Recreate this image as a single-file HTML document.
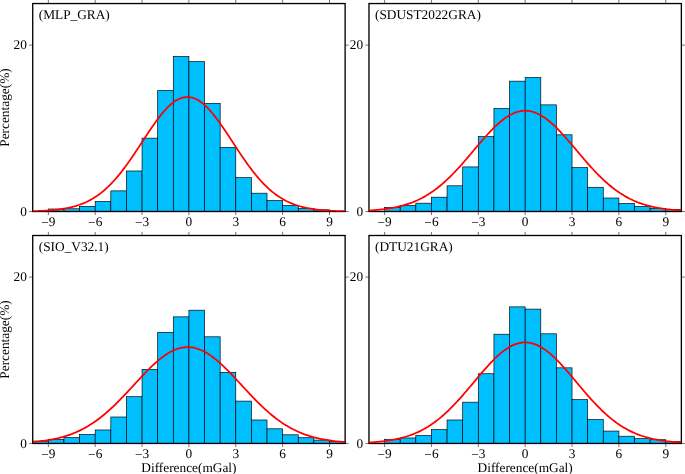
<!DOCTYPE html>
<html><head><meta charset="utf-8"><title>Histograms</title>
<style>
html,body{margin:0;padding:0;background:#fff;}
body{width:685px;height:474px;overflow:hidden;}
svg{display:block;}
text{font-family:"Liberation Serif",serif;font-size:13.33px;fill:#000;text-rendering:geometricPrecision;}
svg{will-change:transform;}
</style></head><body>
<svg width="685" height="474" viewBox="0 0 685 474">
<rect x="0" y="0" width="685" height="474" fill="#fff"/>
<g>
<rect x="48.34" y="209" width="15.62" height="2.5" fill="#00bfff" stroke="#000" stroke-width="0.67"/>
<rect x="63.96" y="208.76" width="15.62" height="2.74" fill="#00bfff" stroke="#000" stroke-width="0.67"/>
<rect x="79.58" y="206.34" width="15.62" height="5.16" fill="#00bfff" stroke="#000" stroke-width="0.67"/>
<rect x="95.2" y="201.52" width="15.62" height="9.98" fill="#00bfff" stroke="#000" stroke-width="0.67"/>
<rect x="110.82" y="190.87" width="15.62" height="20.63" fill="#00bfff" stroke="#000" stroke-width="0.67"/>
<rect x="126.44" y="170.99" width="15.62" height="40.51" fill="#00bfff" stroke="#000" stroke-width="0.67"/>
<rect x="142.06" y="138.14" width="15.62" height="73.36" fill="#00bfff" stroke="#000" stroke-width="0.67"/>
<rect x="157.68" y="90.56" width="15.62" height="120.94" fill="#00bfff" stroke="#000" stroke-width="0.67"/>
<rect x="173.3" y="56.45" width="15.62" height="155.05" fill="#00bfff" stroke="#000" stroke-width="0.67"/>
<rect x="188.92" y="61.61" width="15.62" height="149.89" fill="#00bfff" stroke="#000" stroke-width="0.67"/>
<rect x="204.54" y="103.37" width="15.62" height="108.13" fill="#00bfff" stroke="#000" stroke-width="0.67"/>
<rect x="220.16" y="147.37" width="15.62" height="64.13" fill="#00bfff" stroke="#000" stroke-width="0.67"/>
<rect x="235.78" y="177.65" width="15.62" height="33.85" fill="#00bfff" stroke="#000" stroke-width="0.67"/>
<rect x="251.4" y="193.2" width="15.62" height="18.3" fill="#00bfff" stroke="#000" stroke-width="0.67"/>
<rect x="267.02" y="200.6" width="15.62" height="10.9" fill="#00bfff" stroke="#000" stroke-width="0.67"/>
<rect x="282.64" y="205.43" width="15.62" height="6.07" fill="#00bfff" stroke="#000" stroke-width="0.67"/>
<rect x="298.26" y="208.34" width="15.62" height="3.16" fill="#00bfff" stroke="#000" stroke-width="0.67"/>
<rect x="313.88" y="209.84" width="15.62" height="1.66" fill="#00bfff" stroke="#000" stroke-width="0.67"/>
<rect x="32.72" y="3.55" width="312.4" height="207.95" fill="none" stroke="#000" stroke-width="1.33"/>
<clipPath id="c00"><rect x="32.72" y="3.55" width="312.4" height="207.95"/></clipPath>
<polyline clip-path="url(#c00)" points="32.72,211.16 34.28,211.12 35.84,211.08 37.41,211.02 38.97,210.97 40.53,210.9 42.09,210.83 43.65,210.76 45.22,210.67 46.78,210.57 48.34,210.47 49.9,210.36 51.46,210.23 53.03,210.09 54.59,209.94 56.15,209.78 57.71,209.6 59.27,209.4 60.84,209.19 62.4,208.96 63.96,208.7 65.52,208.43 67.08,208.13 68.65,207.81 70.21,207.47 71.77,207.09 73.33,206.69 74.89,206.26 76.46,205.79 78.02,205.29 79.58,204.76 81.14,204.19 82.7,203.57 84.27,202.92 85.83,202.23 87.39,201.49 88.95,200.7 90.51,199.87 92.08,198.99 93.64,198.05 95.2,197.07 96.76,196.03 98.32,194.93 99.89,193.78 101.45,192.57 103.01,191.3 104.57,189.97 106.13,188.59 107.7,187.14 109.26,185.63 110.82,184.06 112.38,182.43 113.94,180.74 115.51,178.99 117.07,177.18 118.63,175.32 120.19,173.39 121.75,171.42 123.32,169.39 124.88,167.31 126.44,165.19 128,163.01 129.56,160.8 131.13,158.55 132.69,156.27 134.25,153.95 135.81,151.61 137.37,149.25 138.94,146.88 140.5,144.49 142.06,142.1 143.62,139.7 145.18,137.31 146.75,134.94 148.31,132.58 149.87,130.25 151.43,127.94 152.99,125.68 154.56,123.45 156.12,121.28 157.68,119.16 159.24,117.11 160.8,115.12 162.37,113.21 163.93,111.38 165.49,109.64 167.05,107.99 168.61,106.44 170.18,104.99 171.74,103.65 173.3,102.43 174.86,101.32 176.42,100.33 177.99,99.47 179.55,98.73 181.11,98.13 182.67,97.66 184.23,97.32 185.8,97.11 187.36,97.04 188.92,97.11 190.48,97.32 192.04,97.66 193.61,98.13 195.17,98.73 196.73,99.47 198.29,100.33 199.85,101.32 201.42,102.43 202.98,103.65 204.54,104.99 206.1,106.44 207.66,107.99 209.23,109.64 210.79,111.38 212.35,113.21 213.91,115.12 215.47,117.11 217.04,119.16 218.6,121.28 220.16,123.45 221.72,125.68 223.28,127.94 224.85,130.25 226.41,132.58 227.97,134.94 229.53,137.31 231.09,139.7 232.66,142.1 234.22,144.49 235.78,146.88 237.34,149.25 238.9,151.61 240.47,153.95 242.03,156.27 243.59,158.55 245.15,160.8 246.71,163.01 248.28,165.19 249.84,167.31 251.4,169.39 252.96,171.42 254.52,173.39 256.09,175.32 257.65,177.18 259.21,178.99 260.77,180.74 262.33,182.43 263.9,184.06 265.46,185.63 267.02,187.14 268.58,188.59 270.14,189.97 271.71,191.3 273.27,192.57 274.83,193.78 276.39,194.93 277.95,196.03 279.52,197.07 281.08,198.05 282.64,198.99 284.2,199.87 285.76,200.7 287.33,201.49 288.89,202.23 290.45,202.92 292.01,203.57 293.57,204.19 295.14,204.76 296.7,205.29 298.26,205.79 299.82,206.26 301.38,206.69 302.95,207.09 304.51,207.47 306.07,207.81 307.63,208.13 309.19,208.43 310.76,208.7 312.32,208.96 313.88,209.19 315.44,209.4 317,209.6 318.57,209.78 320.13,209.94 321.69,210.09 323.25,210.23 324.81,210.36 326.38,210.47 327.94,210.57 329.5,210.67 331.06,210.76 332.62,210.83 334.19,210.9 335.75,210.97 337.31,211.02 338.87,211.08 340.43,211.12 342,211.16 343.56,211.2 345.12,211.23" fill="none" stroke="#ff0000" stroke-width="1.75" stroke-linejoin="round"/>
<line x1="48.34" y1="211.5" x2="48.34" y2="215.1" stroke="#000" stroke-width="0.55"/>
<line x1="48.34" y1="3.55" x2="48.34" y2="-0.05" stroke="#000" stroke-width="0.55"/>
<text x="48.34" y="226.4" text-anchor="middle"><tspan dy="1">−</tspan><tspan dy="-1">9</tspan></text>
<line x1="95.2" y1="211.5" x2="95.2" y2="215.1" stroke="#000" stroke-width="0.55"/>
<line x1="95.2" y1="3.55" x2="95.2" y2="-0.05" stroke="#000" stroke-width="0.55"/>
<text x="95.2" y="226.4" text-anchor="middle"><tspan dy="1">−</tspan><tspan dy="-1">6</tspan></text>
<line x1="142.06" y1="211.5" x2="142.06" y2="215.1" stroke="#000" stroke-width="0.55"/>
<line x1="142.06" y1="3.55" x2="142.06" y2="-0.05" stroke="#000" stroke-width="0.55"/>
<text x="142.06" y="226.4" text-anchor="middle"><tspan dy="1">−</tspan><tspan dy="-1">3</tspan></text>
<line x1="188.92" y1="211.5" x2="188.92" y2="215.1" stroke="#000" stroke-width="0.55"/>
<line x1="188.92" y1="3.55" x2="188.92" y2="-0.05" stroke="#000" stroke-width="0.55"/>
<text x="188.92" y="226.4" text-anchor="middle">0</text>
<line x1="235.78" y1="211.5" x2="235.78" y2="215.1" stroke="#000" stroke-width="0.55"/>
<line x1="235.78" y1="3.55" x2="235.78" y2="-0.05" stroke="#000" stroke-width="0.55"/>
<text x="235.78" y="226.4" text-anchor="middle">3</text>
<line x1="282.64" y1="211.5" x2="282.64" y2="215.1" stroke="#000" stroke-width="0.55"/>
<line x1="282.64" y1="3.55" x2="282.64" y2="-0.05" stroke="#000" stroke-width="0.55"/>
<text x="282.64" y="226.4" text-anchor="middle">6</text>
<line x1="329.5" y1="211.5" x2="329.5" y2="215.1" stroke="#000" stroke-width="0.55"/>
<line x1="329.5" y1="3.55" x2="329.5" y2="-0.05" stroke="#000" stroke-width="0.55"/>
<text x="329.5" y="226.4" text-anchor="middle">9</text>
<line x1="32.72" y1="211.5" x2="29.12" y2="211.5" stroke="#000" stroke-width="0.55"/>
<line x1="345.12" y1="211.5" x2="348.72" y2="211.5" stroke="#000" stroke-width="0.55"/>
<text x="26.92" y="215.9" text-anchor="end">0</text>
<line x1="32.72" y1="45.14" x2="29.12" y2="45.14" stroke="#000" stroke-width="0.55"/>
<line x1="345.12" y1="45.14" x2="348.72" y2="45.14" stroke="#000" stroke-width="0.55"/>
<text x="26.92" y="49.34" text-anchor="end">20</text>
<text x="38.72" y="18.95">(MLP_GRA)</text>
<text transform="translate(9.0,107.53) rotate(-90)" text-anchor="middle">Percentage(%)</text>
</g>
<g>
<rect x="384.59" y="207.34" width="15.62" height="4.16" fill="#00bfff" stroke="#000" stroke-width="0.67"/>
<rect x="400.21" y="205.51" width="15.62" height="5.99" fill="#00bfff" stroke="#000" stroke-width="0.67"/>
<rect x="415.83" y="203.18" width="15.62" height="8.32" fill="#00bfff" stroke="#000" stroke-width="0.67"/>
<rect x="431.45" y="197.19" width="15.62" height="14.31" fill="#00bfff" stroke="#000" stroke-width="0.67"/>
<rect x="447.07" y="185.8" width="15.62" height="25.7" fill="#00bfff" stroke="#000" stroke-width="0.67"/>
<rect x="462.69" y="166.92" width="15.62" height="44.58" fill="#00bfff" stroke="#000" stroke-width="0.67"/>
<rect x="478.31" y="136.64" width="15.62" height="74.86" fill="#00bfff" stroke="#000" stroke-width="0.67"/>
<rect x="493.93" y="108.52" width="15.62" height="102.98" fill="#00bfff" stroke="#000" stroke-width="0.67"/>
<rect x="509.55" y="81.16" width="15.62" height="130.34" fill="#00bfff" stroke="#000" stroke-width="0.67"/>
<rect x="525.17" y="77.5" width="15.62" height="134" fill="#00bfff" stroke="#000" stroke-width="0.67"/>
<rect x="540.79" y="104.86" width="15.62" height="106.64" fill="#00bfff" stroke="#000" stroke-width="0.67"/>
<rect x="556.41" y="134.81" width="15.62" height="76.69" fill="#00bfff" stroke="#000" stroke-width="0.67"/>
<rect x="572.03" y="167.66" width="15.62" height="43.84" fill="#00bfff" stroke="#000" stroke-width="0.67"/>
<rect x="587.65" y="187.29" width="15.62" height="24.21" fill="#00bfff" stroke="#000" stroke-width="0.67"/>
<rect x="603.27" y="198.02" width="15.62" height="13.48" fill="#00bfff" stroke="#000" stroke-width="0.67"/>
<rect x="618.89" y="203.43" width="15.62" height="8.07" fill="#00bfff" stroke="#000" stroke-width="0.67"/>
<rect x="634.51" y="206.51" width="15.62" height="4.99" fill="#00bfff" stroke="#000" stroke-width="0.67"/>
<rect x="650.13" y="208.34" width="15.62" height="3.16" fill="#00bfff" stroke="#000" stroke-width="0.67"/>
<rect x="665.75" y="209.42" width="15.62" height="2.08" fill="#00bfff" stroke="#000" stroke-width="0.67"/>
<rect x="368.97" y="3.55" width="312.4" height="207.95" fill="none" stroke="#000" stroke-width="1.33"/>
<clipPath id="c10"><rect x="368.97" y="3.55" width="312.4" height="207.95"/></clipPath>
<polyline clip-path="url(#c10)" points="368.97,210.49 370.53,210.4 372.09,210.29 373.66,210.18 375.22,210.06 376.78,209.92 378.34,209.78 379.9,209.63 381.47,209.46 383.03,209.28 384.59,209.09 386.15,208.88 387.71,208.66 389.28,208.42 390.84,208.16 392.4,207.89 393.96,207.6 395.52,207.29 397.09,206.95 398.65,206.6 400.21,206.22 401.77,205.82 403.33,205.39 404.9,204.94 406.46,204.46 408.02,203.95 409.58,203.42 411.14,202.85 412.71,202.26 414.27,201.63 415.83,200.96 417.39,200.27 418.95,199.53 420.52,198.77 422.08,197.96 423.64,197.12 425.2,196.24 426.76,195.32 428.33,194.36 429.89,193.36 431.45,192.32 433.01,191.24 434.57,190.12 436.14,188.95 437.7,187.75 439.26,186.5 440.82,185.22 442.38,183.89 443.95,182.52 445.51,181.11 447.07,179.66 448.63,178.18 450.19,176.65 451.76,175.09 453.32,173.5 454.88,171.87 456.44,170.22 458,168.53 459.57,166.81 461.13,165.07 462.69,163.3 464.25,161.52 465.81,159.71 467.38,157.89 468.94,156.06 470.5,154.21 472.06,152.36 473.62,150.51 475.19,148.65 476.75,146.8 478.31,144.96 479.87,143.13 481.43,141.31 483,139.51 484.56,137.73 486.12,135.97 487.68,134.25 489.24,132.56 490.81,130.9 492.37,129.29 493.93,127.72 495.49,126.2 497.05,124.74 498.62,123.33 500.18,121.98 501.74,120.69 503.3,119.47 504.86,118.31 506.43,117.24 507.99,116.23 509.55,115.3 511.11,114.46 512.67,113.7 514.24,113.02 515.8,112.43 517.36,111.92 518.92,111.51 520.48,111.19 522.05,110.95 523.61,110.82 525.17,110.77 526.73,110.82 528.29,110.95 529.86,111.19 531.42,111.51 532.98,111.92 534.54,112.43 536.1,113.02 537.67,113.7 539.23,114.46 540.79,115.3 542.35,116.23 543.91,117.24 545.48,118.31 547.04,119.47 548.6,120.69 550.16,121.98 551.72,123.33 553.29,124.74 554.85,126.2 556.41,127.72 557.97,129.29 559.53,130.9 561.1,132.56 562.66,134.25 564.22,135.97 565.78,137.73 567.34,139.51 568.91,141.31 570.47,143.13 572.03,144.96 573.59,146.8 575.15,148.65 576.72,150.51 578.28,152.36 579.84,154.21 581.4,156.06 582.96,157.89 584.53,159.71 586.09,161.52 587.65,163.3 589.21,165.07 590.77,166.81 592.34,168.53 593.9,170.22 595.46,171.87 597.02,173.5 598.58,175.09 600.15,176.65 601.71,178.18 603.27,179.66 604.83,181.11 606.39,182.52 607.96,183.89 609.52,185.22 611.08,186.5 612.64,187.75 614.2,188.95 615.77,190.12 617.33,191.24 618.89,192.32 620.45,193.36 622.01,194.36 623.58,195.32 625.14,196.24 626.7,197.12 628.26,197.96 629.82,198.77 631.39,199.53 632.95,200.27 634.51,200.96 636.07,201.63 637.63,202.26 639.2,202.85 640.76,203.42 642.32,203.95 643.88,204.46 645.44,204.94 647.01,205.39 648.57,205.82 650.13,206.22 651.69,206.6 653.25,206.95 654.82,207.29 656.38,207.6 657.94,207.89 659.5,208.16 661.06,208.42 662.63,208.66 664.19,208.88 665.75,209.09 667.31,209.28 668.87,209.46 670.44,209.63 672,209.78 673.56,209.92 675.12,210.06 676.68,210.18 678.25,210.29 679.81,210.4 681.37,210.49" fill="none" stroke="#ff0000" stroke-width="1.75" stroke-linejoin="round"/>
<line x1="384.59" y1="211.5" x2="384.59" y2="215.1" stroke="#000" stroke-width="0.55"/>
<line x1="384.59" y1="3.55" x2="384.59" y2="-0.05" stroke="#000" stroke-width="0.55"/>
<text x="384.59" y="226.4" text-anchor="middle"><tspan dy="1">−</tspan><tspan dy="-1">9</tspan></text>
<line x1="431.45" y1="211.5" x2="431.45" y2="215.1" stroke="#000" stroke-width="0.55"/>
<line x1="431.45" y1="3.55" x2="431.45" y2="-0.05" stroke="#000" stroke-width="0.55"/>
<text x="431.45" y="226.4" text-anchor="middle"><tspan dy="1">−</tspan><tspan dy="-1">6</tspan></text>
<line x1="478.31" y1="211.5" x2="478.31" y2="215.1" stroke="#000" stroke-width="0.55"/>
<line x1="478.31" y1="3.55" x2="478.31" y2="-0.05" stroke="#000" stroke-width="0.55"/>
<text x="478.31" y="226.4" text-anchor="middle"><tspan dy="1">−</tspan><tspan dy="-1">3</tspan></text>
<line x1="525.17" y1="211.5" x2="525.17" y2="215.1" stroke="#000" stroke-width="0.55"/>
<line x1="525.17" y1="3.55" x2="525.17" y2="-0.05" stroke="#000" stroke-width="0.55"/>
<text x="525.17" y="226.4" text-anchor="middle">0</text>
<line x1="572.03" y1="211.5" x2="572.03" y2="215.1" stroke="#000" stroke-width="0.55"/>
<line x1="572.03" y1="3.55" x2="572.03" y2="-0.05" stroke="#000" stroke-width="0.55"/>
<text x="572.03" y="226.4" text-anchor="middle">3</text>
<line x1="618.89" y1="211.5" x2="618.89" y2="215.1" stroke="#000" stroke-width="0.55"/>
<line x1="618.89" y1="3.55" x2="618.89" y2="-0.05" stroke="#000" stroke-width="0.55"/>
<text x="618.89" y="226.4" text-anchor="middle">6</text>
<line x1="665.75" y1="211.5" x2="665.75" y2="215.1" stroke="#000" stroke-width="0.55"/>
<line x1="665.75" y1="3.55" x2="665.75" y2="-0.05" stroke="#000" stroke-width="0.55"/>
<text x="665.75" y="226.4" text-anchor="middle">9</text>
<line x1="368.97" y1="211.5" x2="365.37" y2="211.5" stroke="#000" stroke-width="0.55"/>
<line x1="681.37" y1="211.5" x2="684.97" y2="211.5" stroke="#000" stroke-width="0.55"/>
<text x="363.17" y="215.9" text-anchor="end">0</text>
<line x1="368.97" y1="45.14" x2="365.37" y2="45.14" stroke="#000" stroke-width="0.55"/>
<line x1="681.37" y1="45.14" x2="684.97" y2="45.14" stroke="#000" stroke-width="0.55"/>
<text x="363.17" y="49.34" text-anchor="end">20</text>
<text x="374.97" y="18.95">(SDUST2022GRA)</text>
</g>
<g>
<rect x="32.72" y="441.12" width="15.62" height="2.33" fill="#00bfff" stroke="#000" stroke-width="0.67"/>
<rect x="48.34" y="439.29" width="15.62" height="4.16" fill="#00bfff" stroke="#000" stroke-width="0.67"/>
<rect x="63.96" y="437.63" width="15.62" height="5.82" fill="#00bfff" stroke="#000" stroke-width="0.67"/>
<rect x="79.58" y="434.47" width="15.62" height="8.98" fill="#00bfff" stroke="#000" stroke-width="0.67"/>
<rect x="95.2" y="429.97" width="15.62" height="13.48" fill="#00bfff" stroke="#000" stroke-width="0.67"/>
<rect x="110.82" y="417" width="15.62" height="26.45" fill="#00bfff" stroke="#000" stroke-width="0.67"/>
<rect x="126.44" y="396.7" width="15.62" height="46.75" fill="#00bfff" stroke="#000" stroke-width="0.67"/>
<rect x="142.06" y="369.34" width="15.62" height="74.11" fill="#00bfff" stroke="#000" stroke-width="0.67"/>
<rect x="157.68" y="332.4" width="15.62" height="111.05" fill="#00bfff" stroke="#000" stroke-width="0.67"/>
<rect x="173.3" y="316.85" width="15.62" height="126.6" fill="#00bfff" stroke="#000" stroke-width="0.67"/>
<rect x="188.92" y="310.2" width="15.62" height="133.25" fill="#00bfff" stroke="#000" stroke-width="0.67"/>
<rect x="204.54" y="336.81" width="15.62" height="106.64" fill="#00bfff" stroke="#000" stroke-width="0.67"/>
<rect x="220.16" y="372.33" width="15.62" height="71.12" fill="#00bfff" stroke="#000" stroke-width="0.67"/>
<rect x="235.78" y="401.11" width="15.62" height="42.34" fill="#00bfff" stroke="#000" stroke-width="0.67"/>
<rect x="251.4" y="419.99" width="15.62" height="23.46" fill="#00bfff" stroke="#000" stroke-width="0.67"/>
<rect x="267.02" y="428.81" width="15.62" height="14.64" fill="#00bfff" stroke="#000" stroke-width="0.67"/>
<rect x="282.64" y="434.8" width="15.62" height="8.65" fill="#00bfff" stroke="#000" stroke-width="0.67"/>
<rect x="298.26" y="437.71" width="15.62" height="5.74" fill="#00bfff" stroke="#000" stroke-width="0.67"/>
<rect x="313.88" y="440.12" width="15.62" height="3.33" fill="#00bfff" stroke="#000" stroke-width="0.67"/>
<rect x="329.5" y="441.45" width="15.62" height="2" fill="#00bfff" stroke="#000" stroke-width="0.67"/>
<rect x="32.72" y="235.5" width="312.4" height="207.95" fill="none" stroke="#000" stroke-width="1.33"/>
<clipPath id="c01"><rect x="32.72" y="235.5" width="312.4" height="207.95"/></clipPath>
<polyline clip-path="url(#c01)" points="32.72,441.92 34.28,441.79 35.84,441.65 37.41,441.5 38.97,441.33 40.53,441.16 42.09,440.97 43.65,440.77 45.22,440.55 46.78,440.32 48.34,440.08 49.9,439.82 51.46,439.54 53.03,439.24 54.59,438.92 56.15,438.59 57.71,438.24 59.27,437.86 60.84,437.46 62.4,437.04 63.96,436.59 65.52,436.12 67.08,435.63 68.65,435.11 70.21,434.56 71.77,433.98 73.33,433.37 74.89,432.73 76.46,432.07 78.02,431.37 79.58,430.64 81.14,429.87 82.7,429.08 84.27,428.25 85.83,427.38 87.39,426.48 88.95,425.55 90.51,424.57 92.08,423.57 93.64,422.52 95.2,421.44 96.76,420.33 98.32,419.18 99.89,417.99 101.45,416.77 103.01,415.51 104.57,414.21 106.13,412.89 107.7,411.53 109.26,410.13 110.82,408.71 112.38,407.25 113.94,405.77 115.51,404.26 117.07,402.72 118.63,401.15 120.19,399.57 121.75,397.96 123.32,396.33 124.88,394.69 126.44,393.03 128,391.36 129.56,389.68 131.13,387.99 132.69,386.3 134.25,384.6 135.81,382.91 137.37,381.22 138.94,379.53 140.5,377.86 142.06,376.19 143.62,374.55 145.18,372.92 146.75,371.32 148.31,369.74 149.87,368.19 151.43,366.67 152.99,365.19 154.56,363.74 156.12,362.34 157.68,360.98 159.24,359.67 160.8,358.41 162.37,357.21 163.93,356.06 165.49,354.97 167.05,353.94 168.61,352.98 170.18,352.09 171.74,351.26 173.3,350.5 174.86,349.82 176.42,349.21 177.99,348.67 179.55,348.22 181.11,347.84 182.67,347.54 184.23,347.32 185.8,347.19 187.36,347.13 188.92,347.15 190.48,347.26 192.04,347.45 193.61,347.71 195.17,348.06 196.73,348.48 198.29,348.99 199.85,349.56 201.42,350.22 202.98,350.95 204.54,351.75 206.1,352.62 207.66,353.55 209.23,354.55 210.79,355.62 212.35,356.74 213.91,357.93 215.47,359.16 217.04,360.45 218.6,361.79 220.16,363.18 221.72,364.6 223.28,366.07 224.85,367.58 226.41,369.11 227.97,370.68 229.53,372.28 231.09,373.89 232.66,375.53 234.22,377.19 235.78,378.86 237.34,380.54 238.9,382.23 240.47,383.92 242.03,385.62 243.59,387.31 245.15,389 246.71,390.69 248.28,392.36 249.84,394.03 251.4,395.68 252.96,397.31 254.52,398.93 256.09,400.52 257.65,402.1 259.21,403.64 260.77,405.17 262.33,406.66 263.9,408.13 265.46,409.57 267.02,410.97 268.58,412.35 270.14,413.69 271.71,414.99 273.27,416.27 274.83,417.5 276.39,418.71 277.95,419.87 279.52,421 281.08,422.1 282.64,423.15 284.2,424.18 285.76,425.16 287.33,426.11 288.89,427.03 290.45,427.91 292.01,428.75 293.57,429.56 295.14,430.34 296.7,431.08 298.26,431.79 299.82,432.47 301.38,433.12 302.95,433.74 304.51,434.33 306.07,434.89 307.63,435.42 309.19,435.93 310.76,436.41 312.32,436.86 313.88,437.29 315.44,437.7 317,438.09 318.57,438.45 320.13,438.79 321.69,439.12 323.25,439.42 324.81,439.71 326.38,439.97 327.94,440.23 329.5,440.46 331.06,440.68 332.62,440.89 334.19,441.08 335.75,441.26 337.31,441.43 338.87,441.59 340.43,441.74 342,441.87 343.56,442 345.12,442.12" fill="none" stroke="#ff0000" stroke-width="1.75" stroke-linejoin="round"/>
<line x1="48.34" y1="443.45" x2="48.34" y2="447.05" stroke="#000" stroke-width="0.55"/>
<line x1="48.34" y1="235.5" x2="48.34" y2="231.9" stroke="#000" stroke-width="0.55"/>
<text x="48.34" y="458.35" text-anchor="middle"><tspan dy="1">−</tspan><tspan dy="-1">9</tspan></text>
<line x1="95.2" y1="443.45" x2="95.2" y2="447.05" stroke="#000" stroke-width="0.55"/>
<line x1="95.2" y1="235.5" x2="95.2" y2="231.9" stroke="#000" stroke-width="0.55"/>
<text x="95.2" y="458.35" text-anchor="middle"><tspan dy="1">−</tspan><tspan dy="-1">6</tspan></text>
<line x1="142.06" y1="443.45" x2="142.06" y2="447.05" stroke="#000" stroke-width="0.55"/>
<line x1="142.06" y1="235.5" x2="142.06" y2="231.9" stroke="#000" stroke-width="0.55"/>
<text x="142.06" y="458.35" text-anchor="middle"><tspan dy="1">−</tspan><tspan dy="-1">3</tspan></text>
<line x1="188.92" y1="443.45" x2="188.92" y2="447.05" stroke="#000" stroke-width="0.55"/>
<line x1="188.92" y1="235.5" x2="188.92" y2="231.9" stroke="#000" stroke-width="0.55"/>
<text x="188.92" y="458.35" text-anchor="middle">0</text>
<line x1="235.78" y1="443.45" x2="235.78" y2="447.05" stroke="#000" stroke-width="0.55"/>
<line x1="235.78" y1="235.5" x2="235.78" y2="231.9" stroke="#000" stroke-width="0.55"/>
<text x="235.78" y="458.35" text-anchor="middle">3</text>
<line x1="282.64" y1="443.45" x2="282.64" y2="447.05" stroke="#000" stroke-width="0.55"/>
<line x1="282.64" y1="235.5" x2="282.64" y2="231.9" stroke="#000" stroke-width="0.55"/>
<text x="282.64" y="458.35" text-anchor="middle">6</text>
<line x1="329.5" y1="443.45" x2="329.5" y2="447.05" stroke="#000" stroke-width="0.55"/>
<line x1="329.5" y1="235.5" x2="329.5" y2="231.9" stroke="#000" stroke-width="0.55"/>
<text x="329.5" y="458.35" text-anchor="middle">9</text>
<line x1="32.72" y1="443.45" x2="29.12" y2="443.45" stroke="#000" stroke-width="0.55"/>
<line x1="345.12" y1="443.45" x2="348.72" y2="443.45" stroke="#000" stroke-width="0.55"/>
<text x="26.92" y="447.85" text-anchor="end">0</text>
<line x1="32.72" y1="277.09" x2="29.12" y2="277.09" stroke="#000" stroke-width="0.55"/>
<line x1="345.12" y1="277.09" x2="348.72" y2="277.09" stroke="#000" stroke-width="0.55"/>
<text x="26.92" y="281.29" text-anchor="end">20</text>
<text x="38.72" y="250.9">(SIO_V32.1)</text>
<text transform="translate(9.0,339.48) rotate(-90)" text-anchor="middle">Percentage(%)</text>
<text x="188.92" y="471.7" text-anchor="middle">Difference(mGal)</text>
</g>
<g>
<rect x="384.59" y="439.29" width="15.62" height="4.16" fill="#00bfff" stroke="#000" stroke-width="0.67"/>
<rect x="400.21" y="437.96" width="15.62" height="5.49" fill="#00bfff" stroke="#000" stroke-width="0.67"/>
<rect x="415.83" y="435.55" width="15.62" height="7.9" fill="#00bfff" stroke="#000" stroke-width="0.67"/>
<rect x="431.45" y="429.64" width="15.62" height="13.81" fill="#00bfff" stroke="#000" stroke-width="0.67"/>
<rect x="447.07" y="419.99" width="15.62" height="23.46" fill="#00bfff" stroke="#000" stroke-width="0.67"/>
<rect x="462.69" y="402.19" width="15.62" height="41.26" fill="#00bfff" stroke="#000" stroke-width="0.67"/>
<rect x="478.31" y="373.75" width="15.62" height="69.7" fill="#00bfff" stroke="#000" stroke-width="0.67"/>
<rect x="493.93" y="334.23" width="15.62" height="109.22" fill="#00bfff" stroke="#000" stroke-width="0.67"/>
<rect x="509.55" y="306.87" width="15.62" height="136.58" fill="#00bfff" stroke="#000" stroke-width="0.67"/>
<rect x="525.17" y="309.11" width="15.62" height="134.34" fill="#00bfff" stroke="#000" stroke-width="0.67"/>
<rect x="540.79" y="333.82" width="15.62" height="109.63" fill="#00bfff" stroke="#000" stroke-width="0.67"/>
<rect x="556.41" y="367.84" width="15.62" height="75.61" fill="#00bfff" stroke="#000" stroke-width="0.67"/>
<rect x="572.03" y="399.61" width="15.62" height="43.84" fill="#00bfff" stroke="#000" stroke-width="0.67"/>
<rect x="587.65" y="419.58" width="15.62" height="23.87" fill="#00bfff" stroke="#000" stroke-width="0.67"/>
<rect x="603.27" y="431.06" width="15.62" height="12.39" fill="#00bfff" stroke="#000" stroke-width="0.67"/>
<rect x="618.89" y="436.21" width="15.62" height="7.24" fill="#00bfff" stroke="#000" stroke-width="0.67"/>
<rect x="634.51" y="438.63" width="15.62" height="4.82" fill="#00bfff" stroke="#000" stroke-width="0.67"/>
<rect x="650.13" y="439.71" width="15.62" height="3.74" fill="#00bfff" stroke="#000" stroke-width="0.67"/>
<rect x="665.75" y="441.37" width="15.62" height="2.08" fill="#00bfff" stroke="#000" stroke-width="0.67"/>
<rect x="368.97" y="235.5" width="312.4" height="207.95" fill="none" stroke="#000" stroke-width="1.33"/>
<clipPath id="c11"><rect x="368.97" y="235.5" width="312.4" height="207.95"/></clipPath>
<polyline clip-path="url(#c11)" points="368.97,442.47 370.53,442.38 372.09,442.27 373.66,442.16 375.22,442.04 376.78,441.91 378.34,441.77 379.9,441.62 381.47,441.46 383.03,441.28 384.59,441.09 386.15,440.88 387.71,440.66 389.28,440.43 390.84,440.18 392.4,439.91 393.96,439.62 395.52,439.31 397.09,438.98 398.65,438.63 400.21,438.26 401.77,437.86 403.33,437.44 404.9,436.99 406.46,436.51 408.02,436.01 409.58,435.48 411.14,434.91 412.71,434.32 414.27,433.69 415.83,433.03 417.39,432.34 418.95,431.61 420.52,430.85 422.08,430.05 423.64,429.21 425.2,428.33 426.76,427.41 428.33,426.45 429.89,425.46 431.45,424.42 433.01,423.34 434.57,422.22 436.14,421.05 437.7,419.85 439.26,418.6 440.82,417.31 442.38,415.98 443.95,414.61 445.51,413.2 447.07,411.75 448.63,410.26 450.19,408.73 451.76,407.17 453.32,405.57 454.88,403.94 456.44,402.27 458,400.58 459.57,398.85 461.13,397.1 462.69,395.33 464.25,393.53 465.81,391.72 467.38,389.89 468.94,388.04 470.5,386.19 472.06,384.33 473.62,382.46 475.19,380.59 476.75,378.73 478.31,376.87 479.87,375.03 481.43,373.19 483,371.38 484.56,369.58 486.12,367.82 487.68,366.08 489.24,364.37 490.81,362.71 492.37,361.08 493.93,359.5 495.49,357.97 497.05,356.49 498.62,355.06 500.18,353.7 501.74,352.4 503.3,351.17 504.86,350 506.43,348.92 507.99,347.9 509.55,346.97 511.11,346.11 512.67,345.34 514.24,344.66 515.8,344.06 517.36,343.55 518.92,343.13 520.48,342.81 522.05,342.57 523.61,342.43 525.17,342.39 526.73,342.43 528.29,342.57 529.86,342.81 531.42,343.13 532.98,343.55 534.54,344.06 536.1,344.66 537.67,345.34 539.23,346.11 540.79,346.97 542.35,347.9 543.91,348.92 545.48,350 547.04,351.17 548.6,352.4 550.16,353.7 551.72,355.06 553.29,356.49 554.85,357.97 556.41,359.5 557.97,361.08 559.53,362.71 561.1,364.37 562.66,366.08 564.22,367.82 565.78,369.58 567.34,371.38 568.91,373.19 570.47,375.03 572.03,376.87 573.59,378.73 575.15,380.59 576.72,382.46 578.28,384.33 579.84,386.19 581.4,388.04 582.96,389.89 584.53,391.72 586.09,393.53 587.65,395.33 589.21,397.1 590.77,398.85 592.34,400.58 593.9,402.27 595.46,403.94 597.02,405.57 598.58,407.17 600.15,408.73 601.71,410.26 603.27,411.75 604.83,413.2 606.39,414.61 607.96,415.98 609.52,417.31 611.08,418.6 612.64,419.85 614.2,421.05 615.77,422.22 617.33,423.34 618.89,424.42 620.45,425.46 622.01,426.45 623.58,427.41 625.14,428.33 626.7,429.21 628.26,430.05 629.82,430.85 631.39,431.61 632.95,432.34 634.51,433.03 636.07,433.69 637.63,434.32 639.2,434.91 640.76,435.48 642.32,436.01 643.88,436.51 645.44,436.99 647.01,437.44 648.57,437.86 650.13,438.26 651.69,438.63 653.25,438.98 654.82,439.31 656.38,439.62 657.94,439.91 659.5,440.18 661.06,440.43 662.63,440.66 664.19,440.88 665.75,441.09 667.31,441.28 668.87,441.46 670.44,441.62 672,441.77 673.56,441.91 675.12,442.04 676.68,442.16 678.25,442.27 679.81,442.38 681.37,442.47" fill="none" stroke="#ff0000" stroke-width="1.75" stroke-linejoin="round"/>
<line x1="384.59" y1="443.45" x2="384.59" y2="447.05" stroke="#000" stroke-width="0.55"/>
<line x1="384.59" y1="235.5" x2="384.59" y2="231.9" stroke="#000" stroke-width="0.55"/>
<text x="384.59" y="458.35" text-anchor="middle"><tspan dy="1">−</tspan><tspan dy="-1">9</tspan></text>
<line x1="431.45" y1="443.45" x2="431.45" y2="447.05" stroke="#000" stroke-width="0.55"/>
<line x1="431.45" y1="235.5" x2="431.45" y2="231.9" stroke="#000" stroke-width="0.55"/>
<text x="431.45" y="458.35" text-anchor="middle"><tspan dy="1">−</tspan><tspan dy="-1">6</tspan></text>
<line x1="478.31" y1="443.45" x2="478.31" y2="447.05" stroke="#000" stroke-width="0.55"/>
<line x1="478.31" y1="235.5" x2="478.31" y2="231.9" stroke="#000" stroke-width="0.55"/>
<text x="478.31" y="458.35" text-anchor="middle"><tspan dy="1">−</tspan><tspan dy="-1">3</tspan></text>
<line x1="525.17" y1="443.45" x2="525.17" y2="447.05" stroke="#000" stroke-width="0.55"/>
<line x1="525.17" y1="235.5" x2="525.17" y2="231.9" stroke="#000" stroke-width="0.55"/>
<text x="525.17" y="458.35" text-anchor="middle">0</text>
<line x1="572.03" y1="443.45" x2="572.03" y2="447.05" stroke="#000" stroke-width="0.55"/>
<line x1="572.03" y1="235.5" x2="572.03" y2="231.9" stroke="#000" stroke-width="0.55"/>
<text x="572.03" y="458.35" text-anchor="middle">3</text>
<line x1="618.89" y1="443.45" x2="618.89" y2="447.05" stroke="#000" stroke-width="0.55"/>
<line x1="618.89" y1="235.5" x2="618.89" y2="231.9" stroke="#000" stroke-width="0.55"/>
<text x="618.89" y="458.35" text-anchor="middle">6</text>
<line x1="665.75" y1="443.45" x2="665.75" y2="447.05" stroke="#000" stroke-width="0.55"/>
<line x1="665.75" y1="235.5" x2="665.75" y2="231.9" stroke="#000" stroke-width="0.55"/>
<text x="665.75" y="458.35" text-anchor="middle">9</text>
<line x1="368.97" y1="443.45" x2="365.37" y2="443.45" stroke="#000" stroke-width="0.55"/>
<line x1="681.37" y1="443.45" x2="684.97" y2="443.45" stroke="#000" stroke-width="0.55"/>
<text x="363.17" y="447.85" text-anchor="end">0</text>
<line x1="368.97" y1="277.09" x2="365.37" y2="277.09" stroke="#000" stroke-width="0.55"/>
<line x1="681.37" y1="277.09" x2="684.97" y2="277.09" stroke="#000" stroke-width="0.55"/>
<text x="363.17" y="281.29" text-anchor="end">20</text>
<text x="374.97" y="250.9">(DTU21GRA)</text>
<text x="525.17" y="471.7" text-anchor="middle">Difference(mGal)</text>
</g>
</svg>
</body></html>
